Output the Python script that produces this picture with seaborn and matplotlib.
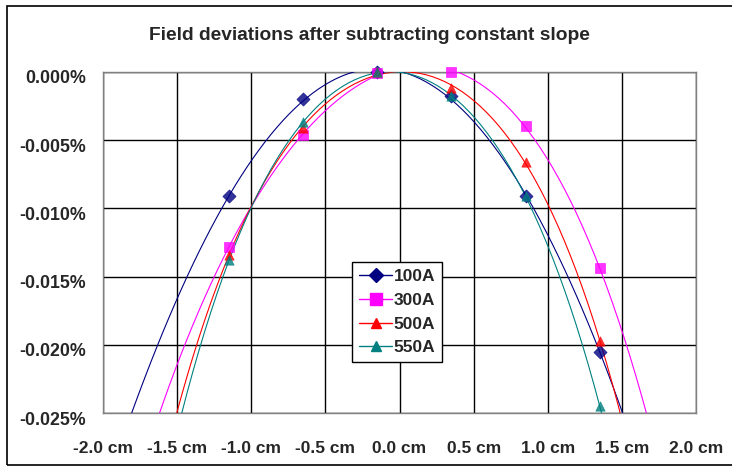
import numpy as np
import matplotlib
matplotlib.use("Agg")
import matplotlib.pyplot as plt
import matplotlib.transforms as mtransforms
from matplotlib.lines import Line2D
from matplotlib.ticker import FuncFormatter, MultipleLocator
import seaborn as sns

# Posicoes (cm) e desvios (%)
posicao = [-1.15, -0.65, -0.15, 0.35, 0.85, 1.35]
desvio_100A = [-0.0091, -0.0020, 0.0000, -0.0018, -0.0091, -0.0205]
desvio_300A = [-0.0128, -0.0046, -0.0001, 0.0000, -0.0040, -0.0144]
desvio_500A = [-0.0134, -0.0041, 0.0000, -0.0012, -0.0066, -0.0197]
desvio_550A = [-0.0138, -0.0037, 0.0000, -0.0018, -0.0091, -0.0245]

series = ["100A", "300A", "500A", "550A"]
cores = ["#000080", "#FF00FF", "#FF0000", "#008080"]
marcadores = ["D", "s", "^", "^"]
tamanhos = [45, 60, 45, 45]


def fmt_pct(v, p):
    if abs(v) < 1e-9:
        v = 0.0
    return f"{v:.3f}%"


sns.set_style("white")
plt.rcParams["font.family"] = ["Liberation Sans", "DejaVu Sans"]

fig = plt.figure(figsize=(7.32, 4.67), dpi=100)
ax = fig.add_axes([0.1407, 0.1156, 0.8103, 0.7305])

ax.set_xlim(-2.0, 2.0)
ax.set_ylim(-0.025, 0.0)

# linha de tendencia polinomial (ordem 4) + pontos
dados = [desvio_100A, desvio_300A, desvio_500A, desvio_550A]
for nome, y, cor, mk, sz in zip(series, dados, cores, marcadores, tamanhos):
    sns.regplot(x=np.array(posicao), y=np.array(y), order=4, ci=None, truncate=False,
                marker=mk, color=cor, ax=ax,
                scatter_kws={"s": sz, "linewidths": 0.5, "edgecolors": cor, "zorder": 4, "clip_on": False},
                line_kws={"lw": 0.8, "zorder": 3})

ax.set_xlim(-2.0, 2.0)
ax.set_ylim(-0.025, 0.0)
ax.xaxis.set_major_locator(MultipleLocator(0.5))
ax.yaxis.set_major_locator(MultipleLocator(0.005))
ax.xaxis.set_major_formatter(FuncFormatter(lambda v, p: f"{v:.1f} cm"))
ax.yaxis.set_major_formatter(FuncFormatter(fmt_pct))
ax.grid(True, color="black", lw=1.0)
ax.set_axisbelow(True)
for s in ax.spines.values():
    s.set_color("#808080")
    s.set_linewidth(1.0)
ax.tick_params(axis="x", length=0, pad=20, labelsize=12.5)
ax.tick_params(axis="y", length=0, pad=12, labelsize=12.8)
for lab in ax.get_xticklabels() + ax.get_yticklabels():
    lab.set_fontweight("bold")
desloc = mtransforms.ScaledTranslation(0, -5 / 100, fig.dpi_scale_trans)
for lab in ax.get_yticklabels():
    lab.set_transform(lab.get_transform() + desloc)

fig.text(0.505, 0.925, "Field deviations after subtracting constant slope",
         ha="center", va="center", fontsize=13.8, fontweight="bold")

handles = [Line2D([0], [0], color=c, marker=m, markersize=7 if m != "s" else 8,
                  lw=1.0, markeredgecolor=c) for c, m in zip(cores, marcadores)]
leg = ax.legend(handles, series, loc="upper left", bbox_to_anchor=(0.42, 0.443),
                frameon=True, fancybox=False, framealpha=1,
                edgecolor="black", prop={"weight": "bold", "size": 12.5},
                handlelength=1.9, handletextpad=0.1, labelspacing=0.5,
                borderpad=0.4, borderaxespad=0)
leg.get_frame().set_linewidth(1.0)

fig.patches.append(plt.Rectangle((7 / 732, 2 / 467), 1.0, 1 - 8 / 467, transform=fig.transFigure,
                                 fill=False, edgecolor="black", lw=1.2))

fig.savefig("out.png", dpi=100)
